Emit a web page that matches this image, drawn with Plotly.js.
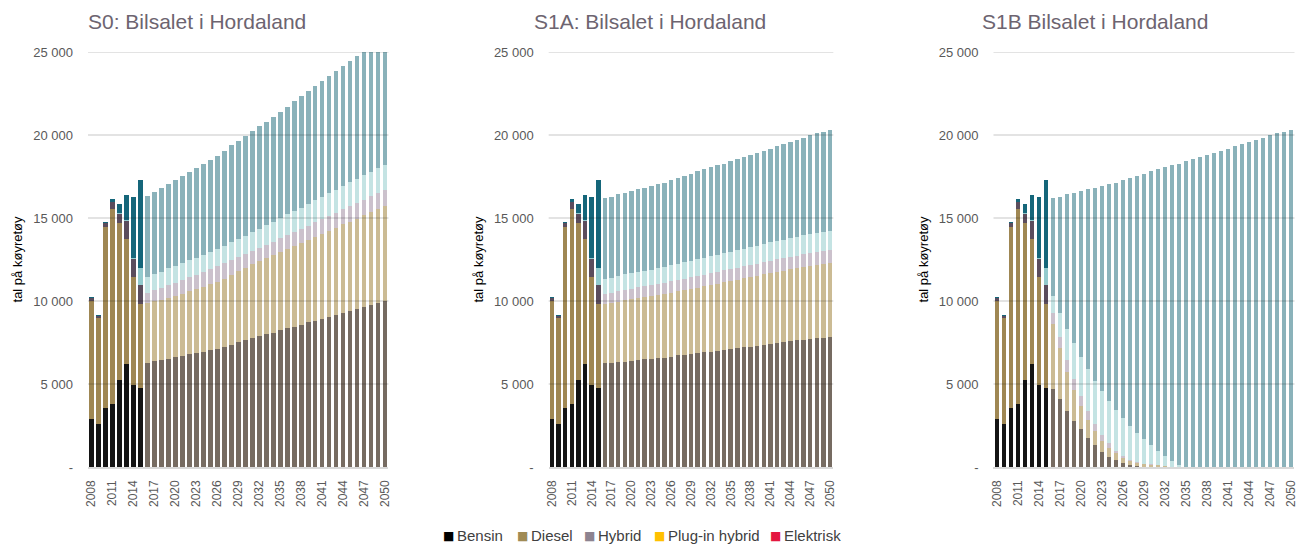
<!DOCTYPE html>
<html>
<head>
<meta charset="utf-8">
<script src="https://cdn.plot.ly/plotly-3.0.1.min.js"></script>
<style>html,body{margin:0;padding:0;background:#fff;}#chart{width:1298px;height:547px;}</style>
</head>
<body>
<div id="chart"></div>
<script>
// ---------- DATA ----------
const years = [2008,2009,2010,2011,2012,2013,2014,2015,2016,2017,2018,2019,2020,2021,2022,2023,2024,2025,2026,2027,2028,2029,2030,2031,2032,2033,2034,2035,2036,2037,2038,2039,2040,2041,2042,2043,2044,2045,2046,2047,2048,2049,2050];
const lastHistoricYear = 2015;
const xTickLabels = ['2008','2011','2014','2017','2020','2023','2026','2029','2032','2035','2038','2041','2044','2047','2050'];
const yTickVals = [0, 5000, 10000, 15000, 20000, 25000];
const yTickText = ['-', '5 000', '10 000', '15 000', '20 000', '25 000'];
const categories = ['Bensin', 'Diesel', 'Hybrid', 'Plug-in hybrid', 'Elektrisk'];
const scenarioTitles = ['S0: Bilsalet i Hordaland', 'S1A: Bilsalet i Hordaland', 'S1B Bilsalet i Hordaland'];
const yTitle = 'tal på køyretøy';

// historical sales 2008-2015 (same in all scenarios)
const histBensin    = [2890, 2610, 3575, 3795, 5240, 6185, 4920, 4740];
const histDiesel    = [7130, 6390, 10865, 11725, 9460, 7550, 6525, 5080];
const histHybrid    = [140, 115, 260, 440, 560, 1105, 1065, 1165];
const histPlugin    = [20, 10, 20, 30, 30, 40, 100, 1025];
const histElektrisk = [40, 25, 40, 150, 555, 1520, 3655, 5280];

// S0 projections 2016-2050
const s0Bensin    = [6285,6365,6445,6525,6605,6685,6785,6865,6945,7025,7110,7230,7350,7500,7650,7750,7890,8010,8090,8230,8350,8450,8570,8715,8815,8935,9055,9155,9295,9415,9500,9640,9760,9880,9980];
const s0Diesel    = [3615,3615,3615,3635,3695,3735,3795,3835,3900,4000,4055,4120,4210,4280,4350,4460,4520,4600,4680,4720,4780,4860,4925,4980,5040,5120,5180,5245,5325,5365,5440,5540,5600,5640,5760];
const s0Hybrid    = [580,660,705,785,800,845,865,885,900,885,945,920,890,850,810,800,780,765,805,825,830,845,845,845,885,885,885,920,900,940,960,920,945,985,965];
const s0Plugin    = [965,985,1000,1025,1030,1025,1005,1025,1025,1040,1005,1060,1085,1105,1125,1145,1170,1205,1205,1225,1260,1285,1280,1320,1325,1345,1385,1385,1425,1430,1470,1490,1485,1505,1505];
const s0Elektrisk = [4900,4940,5065,5080,5140,5240,5300,5400,5460,5540,5640,5725,5840,5885,6005,6065,6160,6200,6320,6405,6485,6590,6710,6770,6870,6950,7030,7150,7215,7310,7390,7470,7570,7650,7750];

// S1A projections 2016-2050
const s1aBensin    = [6245,6265,6305,6345,6385,6445,6485,6505,6545,6585,6645,6725,6765,6805,6865,6910,6950,7010,7050,7110,7150,7210,7250,7310,7370,7430,7490,7550,7590,7630,7670,7710,7750,7790,7810];
const s1aDiesel    = [3575,3615,3655,3695,3715,3715,3735,3775,3815,3835,3855,3855,3900,3940,3940,3975,4015,4035,4095,4095,4135,4155,4195,4195,4235,4255,4275,4275,4320,4340,4380,4400,4420,4440,4460];
const s1aHybrid    = [620,630,640,650,650,660,660,670,670,680,680,690,690,700,700,700,710,710,720,720,730,730,740,740,750,750,760,760,770,770,780,780,790,790,800];
const s1aPlugin    = [885,895,900,910,915,925,930,940,950,955,965,975,980,990,1000,1005,1015,1025,1030,1040,1050,1055,1065,1075,1080,1090,1100,1105,1115,1125,1130,1140,1150,1155,1165];
const s1aElektrisk = [4880,4880,4925,4905,4940,4980,5015,5020,5050,5075,5125,5145,5195,5235,5305,5340,5360,5415,5380,5450,5470,5525,5545,5615,5620,5650,5690,5750,5765,5835,5880,5950,5990,6005,6065];

// S1B projections 2016-2050
const s1bBensin    = [4700,4095,3395,2790,2270,1765,1305,925,620,400,240,120,60,30,15,5,0,0,0,0,0,0,0,0,0,0,0,0,0,0,0,0,0,0,0];
const s1bDiesel    = [3915,3055,2350,1850,1405,1065,845,660,525,420,320,220,180,150,125,95,60,30,10,0,0,0,0,0,0,0,0,0,0,0,0,0,0,0,0];
const s1bHybrid    = [645,700,700,660,600,540,460,360,280,160,100,60,40,25,15,10,5,0,0,0,0,0,0,0,0,0,0,0,0,0,0,0,0,0,0];
const s1bPlugin    = [1065,1445,1845,2150,2370,2530,2590,2650,2570,2450,2310,2070,1790,1480,1150,855,600,330,100,0,0,0,0,0,0,0,0,0,0,0,0,0,0,0,0];
const s1bElektrisk = [5880,6990,8135,9055,9960,10825,11625,12315,13035,13700,14300,14920,15460,15985,16505,16965,17385,17835,18165,18415,18535,18675,18795,18935,19055,19175,19315,19440,19560,19700,19840,19980,20100,20180,20300];

// ---------- STYLE ----------
const histColors = ['#141414', '#9f8753', '#5b4d5d', '#93cacd', '#15667a'];
const projColors = ['#766b61', '#cbbb94', '#cbc1cc', '#c4e3e3', '#8ab2ba'];
const legendColors = ['#000000', '#a08b55', '#8d8390', '#ffc000', '#e4173f'];
const legendTextX = [456, 530, 597, 667, 783];   // pixel positions of the legend labels

const histSets = [histBensin, histDiesel, histHybrid, histPlugin, histElektrisk];
const scenarios = [
  [s0Bensin, s0Diesel, s0Hybrid, s0Plugin, s0Elektrisk],
  [s1aBensin, s1aDiesel, s1aHybrid, s1aPlugin, s1aElektrisk],
  [s1bBensin, s1bDiesel, s1bHybrid, s1bPlugin, s1bElektrisk]
];

const W = 1298, H = 547;
const xLabels = years.map(String);
const axisSuffix = ['', '2', '3'];
const xDomains = [[0.0678, 0.2993], [0.4227, 0.6420], [0.7654, 0.9973]];
const yDomain = [0.14625, 0.90494];
const titleX = [86, 532, 980];

const traces = [];
scenarios.forEach((sc, k) => {
  sc.forEach((proj, c) => {
    traces.push({
      type: 'bar',
      name: categories[c],
      x: xLabels,
      y: histSets[c].concat(proj),
      xaxis: 'x' + axisSuffix[k],
      yaxis: 'y' + axisSuffix[k],
      marker: {color: years.map(yr => yr <= lastHistoricYear ? histColors[c] : projColors[c]), line: {width: 0}},
      showlegend: false,
      hovertemplate: '%{x}: %{y}<extra>' + categories[c] + '</extra>'
    });
  });
});

const layout = {
  width: W, height: H,
  margin: {l: 0, r: 0, t: 0, b: 0},
  paper_bgcolor: '#ffffff', plot_bgcolor: '#ffffff',
  barmode: 'stack', bargap: 0.32,
  font: {family: 'Liberation Sans, Arial, sans-serif', color: '#595959'},
  showlegend: false,
  annotations: [],
  shapes: []
};

axisSuffix.forEach((s, k) => {
  layout['xaxis' + s] = {
    domain: xDomains[k], anchor: 'y' + s, type: 'category',
    tickmode: 'array', tickvals: xTickLabels, ticktext: xTickLabels,
    tickangle: -90, ticks: '', showgrid: false, zeroline: false,
    showline: true, linecolor: '#d9d9d9', linewidth: 1.5,
    tickfont: {size: 12, color: '#595959'}, ticklabelstandoff: 7,
    range: [-0.5, years.length - 0.5]
  };
  layout['yaxis' + s] = {
    domain: yDomain, anchor: 'x' + s, range: [0, 25000],
    tickmode: 'array', tickvals: yTickVals, ticktext: yTickText,
    ticks: '', showgrid: false, zeroline: false, showline: false,
    tickfont: {size: 13, color: '#595959'}, ticklabelstandoff: 14,
    title: {text: yTitle, font: {size: 13, color: '#000000'}, standoff: 7}
  };
  yTickVals.filter(v => v > 0).forEach(v => {
    layout.shapes.push({
      type: 'line', xref: 'x' + s + ' domain', x0: 0, x1: 1,
      yref: 'y' + s, y0: v, y1: v, layer: 'above',
      line: {color: 'rgba(0,0,0,0.15)', width: 1.5}
    });
  });
  layout.annotations.push({
    text: scenarioTitles[k], xref: 'paper', yref: 'paper',
    x: titleX[k] / W, xanchor: 'left', y: 1 - 22 / H, yanchor: 'middle',
    showarrow: false, font: {size: 21, color: '#6d6470', family: 'Liberation Sans, Arial, sans-serif'}
  });
});

// legend (drawn as text so the label spacing matches the original)
categories.forEach((cat, c) => {
  layout.annotations.push({
    text: '■', xref: 'paper', yref: 'paper',
    x: (legendTextX[c] - 1) / W, xanchor: 'right', y: 1 - 536 / H, yanchor: 'middle',
    showarrow: false, borderpad: 0, font: {size: 12, color: legendColors[c], family: 'DejaVu Sans'}
  });
  layout.annotations.push({
    text: cat, xref: 'paper', yref: 'paper',
    x: legendTextX[c] / W, xanchor: 'left', y: 1 - 535 / H, yanchor: 'middle',
    showarrow: false, borderpad: 0, font: {size: 15, color: '#404040', family: 'Liberation Sans, Arial, sans-serif'}
  });
});

Plotly.newPlot('chart', traces, layout, {displayModeBar: false, staticPlot: true});
</script>
</body>
</html>
